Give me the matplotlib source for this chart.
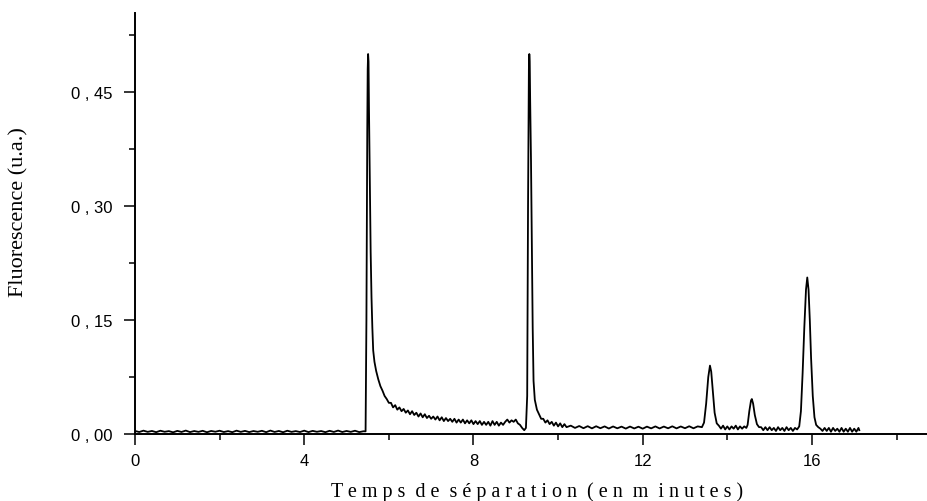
import numpy as np
import matplotlib
matplotlib.use('Agg')
import matplotlib.pyplot as plt
from matplotlib.ticker import MultipleLocator

# ligne de base avant le premier pic (0 - 5,4 min)
temps_base1 = [0.0, 0.1, 0.2, 0.3, 0.4, 0.5, 0.6, 0.7, 0.8, 0.9,
               1.0, 1.1, 1.2, 1.3, 1.4, 1.5, 1.6, 1.7, 1.8, 1.9,
               2.0, 2.1, 2.2, 2.3, 2.4, 2.5, 2.6, 2.7, 2.8, 2.9,
               3.0, 3.1, 3.2, 3.3, 3.4, 3.5, 3.6, 3.7, 3.8, 3.9,
               4.0, 4.1, 4.2, 4.3, 4.4, 4.5, 4.6, 4.7, 4.8, 4.9,
               5.0, 5.1, 5.2, 5.3, 5.4]
fluo_base1 = [0.0040, 0.0026, 0.0044, 0.0028, 0.0040, 0.0024, 0.0043, 0.0029, 0.0038, 0.0022,
              0.0041, 0.0027, 0.0045, 0.0025, 0.0039, 0.0028, 0.0042, 0.0023, 0.0040, 0.0030,
              0.0043, 0.0026, 0.0038, 0.0024, 0.0044, 0.0028, 0.0041, 0.0025, 0.0039, 0.0029,
              0.0042, 0.0024, 0.0045, 0.0027, 0.0040, 0.0023, 0.0043, 0.0028, 0.0038, 0.0026,
              0.0044, 0.0025, 0.0041, 0.0029, 0.0039, 0.0024, 0.0042, 0.0027, 0.0045, 0.0026,
              0.0040, 0.0028, 0.0043, 0.0025, 0.0036]

# premier pic et sa traînée
temps_pic1 = [5.45, 5.47, 5.49, 5.50, 5.51, 5.52, 5.53, 5.55, 5.57, 5.59,
              5.61, 5.63, 5.66, 5.70, 5.75, 5.80, 5.85, 5.90, 5.95, 6.00,
              6.05, 6.10, 6.15, 6.20, 6.25, 6.30, 6.35, 6.40, 6.45, 6.50,
              6.55, 6.60, 6.65, 6.70, 6.75, 6.80, 6.85, 6.90, 6.95, 7.00,
              7.05, 7.10, 7.15, 7.20, 7.25, 7.30, 7.35, 7.40, 7.45, 7.50,
              7.55, 7.60, 7.65, 7.70, 7.75, 7.80, 7.85, 7.90, 7.95, 8.00,
              8.05, 8.10, 8.15, 8.20, 8.25, 8.30, 8.35, 8.40, 8.45, 8.50,
              8.55, 8.60, 8.65, 8.70, 8.75, 8.80, 8.85, 8.90, 8.95, 9.00,
              9.05, 9.10, 9.15, 9.20, 9.24]
fluo_pic1 = [0.0035, 0.150, 0.400, 0.480, 0.500, 0.490, 0.430, 0.330, 0.240, 0.180,
             0.140, 0.110, 0.095, 0.083, 0.072, 0.063, 0.057, 0.050, 0.046, 0.041,
             0.041, 0.035, 0.038, 0.032, 0.035, 0.030, 0.033, 0.028, 0.031, 0.026,
             0.030, 0.025, 0.028, 0.023, 0.027, 0.022, 0.026, 0.021, 0.024, 0.020,
             0.023, 0.019, 0.023, 0.018, 0.022, 0.017, 0.021, 0.017, 0.020, 0.016,
             0.020, 0.015, 0.019, 0.015, 0.019, 0.014, 0.018, 0.014, 0.018, 0.013,
             0.017, 0.013, 0.017, 0.012, 0.016, 0.012, 0.016, 0.011, 0.017, 0.012,
             0.016, 0.011, 0.015, 0.012, 0.016, 0.019, 0.015, 0.018, 0.016, 0.019,
             0.014, 0.012, 0.008, 0.005, 0.008]

# deuxième pic et sa traînée
temps_pic2 = [9.27, 9.29, 9.31, 9.32, 9.33, 9.34, 9.36, 9.38, 9.40, 9.42,
              9.45, 9.50, 9.55, 9.60, 9.65, 9.70, 9.75, 9.80, 9.85, 9.90,
              9.95, 10.00, 10.05, 10.10, 10.15, 10.20]
fluo_pic2 = [0.050, 0.300, 0.480, 0.500, 0.490, 0.440, 0.360, 0.250, 0.140, 0.070,
             0.045, 0.032, 0.026, 0.020, 0.020, 0.015, 0.018, 0.013, 0.016, 0.011,
             0.015, 0.010, 0.014, 0.009, 0.013, 0.009]

# ligne de base entre 10,3 et 13,4 min
temps_base2 = [10.3, 10.4, 10.5, 10.6, 10.7, 10.8, 10.9, 11.0, 11.1, 11.2,
               11.3, 11.4, 11.5, 11.6, 11.7, 11.8, 11.9, 12.0, 12.1, 12.2,
               12.3, 12.4, 12.5, 12.6, 12.7, 12.8, 12.9, 13.0, 13.1, 13.2,
               13.3, 13.4]
fluo_base2 = [0.0110, 0.0080, 0.0105, 0.0076, 0.0103, 0.0074, 0.0102, 0.0076, 0.0100, 0.0072,
              0.0099, 0.0075, 0.0097, 0.0071, 0.0098, 0.0073, 0.0096, 0.0070, 0.0097, 0.0074,
              0.0100, 0.0073, 0.0098, 0.0075, 0.0101, 0.0074, 0.0099, 0.0076, 0.0102, 0.0075,
              0.0100, 0.0090]

# trois petits pics de fin
temps_pic3 = [13.45, 13.50, 13.55, 13.59, 13.62, 13.66, 13.70, 13.75, 13.80, 13.85,
              13.90, 13.95, 14.00, 14.05, 14.10, 14.15, 14.20, 14.25, 14.30, 14.35,
              14.40, 14.45]
fluo_pic3 = [0.015, 0.040, 0.075, 0.090, 0.082, 0.055, 0.028, 0.014, 0.011, 0.007,
             0.011, 0.006, 0.010, 0.006, 0.010, 0.007, 0.011, 0.006, 0.010, 0.007,
             0.010, 0.008]

temps_pic4 = [14.48, 14.52, 14.56, 14.58, 14.61, 14.65, 14.70, 14.75, 14.80, 14.85,
              14.90, 14.95, 15.00, 15.05, 15.10, 15.15, 15.20, 15.25, 15.30, 15.35,
              15.40, 15.45, 15.50, 15.55, 15.60, 15.65]
fluo_pic4 = [0.012, 0.030, 0.044, 0.046, 0.040, 0.025, 0.013, 0.009, 0.009, 0.005,
             0.009, 0.005, 0.009, 0.005, 0.008, 0.004, 0.009, 0.005, 0.008, 0.004,
             0.009, 0.005, 0.008, 0.004, 0.008, 0.006]

temps_pic5 = [15.70, 15.74, 15.78, 15.82, 15.86, 15.89, 15.92, 15.95, 15.98, 16.02,
              16.06, 16.10, 16.15, 16.20, 16.25, 16.30, 16.35, 16.40, 16.45, 16.50,
              16.55, 16.60, 16.65, 16.70, 16.75, 16.80, 16.85, 16.90, 16.95, 17.00,
              17.05, 17.10, 17.12]
fluo_pic5 = [0.010, 0.030, 0.080, 0.140, 0.190, 0.206, 0.190, 0.150, 0.100, 0.050,
             0.022, 0.012, 0.009, 0.007, 0.004, 0.008, 0.004, 0.008, 0.003, 0.008,
             0.004, 0.007, 0.003, 0.008, 0.003, 0.007, 0.003, 0.008, 0.003, 0.007,
             0.003, 0.008, 0.005]

ticks_x = [0, 4, 8, 12, 16]
labels_x = ['0', '4', '8', '12', '16']
ticks_y = [0.0, 0.15, 0.30, 0.45]
labels_y = ['0 , 00', '0 , 15', '0 , 30', '0 , 45']

titre_x = 'T e m p s  d e  s é p a r a t i o n  ( e n  m  i n u t e s )'
titre_y = 'Fluorescence (u.a.)'

temps = np.concatenate([temps_base1, temps_pic1, temps_pic2, temps_base2,
                        temps_pic3, temps_pic4, temps_pic5])
fluo = np.concatenate([fluo_base1, fluo_pic1, fluo_pic2, fluo_base2,
                       fluo_pic3, fluo_pic4, fluo_pic5])

fig = plt.figure(figsize=(9.27, 5.02), dpi=100)
ax = fig.add_axes([135/927, 1 - 435/502, (927 - 135)/927, (435 - 14)/502])

ax.plot(temps, fluo, color='black', linewidth=1.3)

ax.set_xlim(0, 18.72)
ax.set_ylim(0, 0.554)

ax.spines['top'].set_visible(False)
ax.spines['right'].set_visible(False)
for s in ['left', 'bottom']:
    ax.spines[s].set_linewidth(1.4)

ax.set_xticks(ticks_x)
ax.set_xticklabels(labels_x)
ax.set_yticks(ticks_y)
ax.set_yticklabels(labels_y)
ax.xaxis.set_minor_locator(MultipleLocator(2))
ax.yaxis.set_minor_locator(MultipleLocator(0.075))

ax.tick_params(which='major', direction='out', length=8, width=1.1)
ax.tick_params(which='minor', direction='out', length=4.5, width=1.1)
ax.tick_params(axis='y', which='major', pad=8)
ax.tick_params(axis='x', which='major', pad=6)
for lab in ax.get_xticklabels() + ax.get_yticklabels():
    lab.set_fontfamily('Liberation Sans')
    lab.set_fontsize(12)

fig.text(537/927, 1 - 497/502, titre_x, ha='center', va='baseline',
         fontfamily='Liberation Serif', fontsize=14.5)
fig.text(19/927, 1 - 212/502, titre_y, ha='center', va='center', rotation=90,
         fontfamily='Liberation Serif', fontsize=16)

fig.savefig('out.png', dpi=100)
